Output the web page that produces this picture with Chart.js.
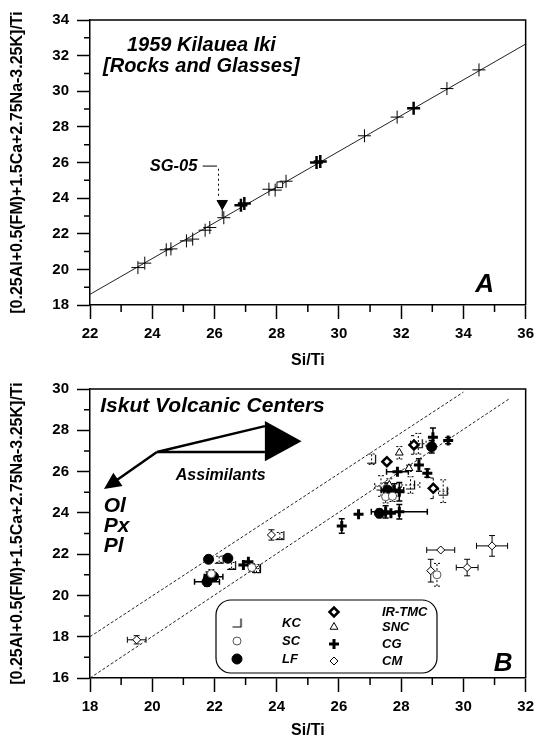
<!DOCTYPE html>
<html>
<head>
<meta charset="utf-8">
<script src="https://cdn.jsdelivr.net/npm/chart.js@4.4.1/dist/chart.umd.min.js"></script>
<style>
  html, body { margin: 0; padding: 0; background: #fff; }
  #wrap { position: relative; width: 540px; height: 740px; }
  canvas { position: absolute; left: 0; }
  #chartA { top: 0; }
  #chartB { top: 370px; }
</style>
</head>
<body>
<div id="wrap">
  <canvas id="chartA" width="540" height="370"></canvas>
  <canvas id="chartB" width="540" height="370"></canvas>
</div>
<script>
const yTitle = "[0.25Al+0.5(FM)+1.5Ca+2.75Na-3.25K]/Ti";
const xTitle = "Si/Ti";

// ---- panel A : 1959 Kilauea Iki ----
const aLineX = [22, 36];
const aLineY = [18.6, 32.65];
const aPlusX = [23.54, 23.76, 24.45, 24.6, 25.1, 25.3, 25.7, 25.85, 26.3, 27.75, 27.95, 28.3, 30.82, 31.87, 33.47, 34.5];
const aPlusY = [20.1, 20.35, 21.1, 21.15, 21.6, 21.7, 22.2, 22.35, 22.9, 24.5, 24.45, 24.95, 27.5, 28.55, 30.15, 31.2];
const aBoldX = [26.85, 26.96, 29.28, 29.4, 32.4];
const aBoldY = [23.6, 23.7, 26.0, 26.05, 29.05];
const aSquareX = [28.1];
const aSquareY = [24.75];
const sgX = [26.25];
const sgY = [23.7];
const sgErrLo = [0.75];

// ---- panel B : Iskut Volcanic Centers ----
const bUpperX = [18, 30];
const bUpperY = [18, 29.85];
const bLowerX = [18, 31.5];
const bLowerY = [16, 29.55];

const kcX = [27.05, 28.55, 29.35, 22.15, 22.55, 24.1, 23.35, 27.35, 28.3];
const kcY = [26.6, 27.35, 25.05, 21.75, 21.45, 22.9, 21.3, 25.3, 25.35];
const kcErrX = [0, 0.25, 0.15, 0, 0, 0, 0.1, 0.2, 0.3];
const kcErrY = [0.25, 0.5, 0.55, 0.15, 0.15, 0.15, 0.2, 0.5, 0.4];

const scX = [27.5, 27.72, 21.9, 23.2, 29.15];
const scY = [24.78, 24.8, 21.05, 21.35, 21.0];
const scErrY = [0.3, 0.25, 0.2, 0.2, 0.55];

const lfX = [21.81, 22.43, 21.76, 21.81, 21.97, 27.3, 27.56, 28.98];
const lfY = [21.75, 21.8, 20.66, 20.83, 20.91, 23.98, 25.1, 27.2];
const lfErrX = [0, 0, 0.4, 0, 0.3, 0, 0.2, 0];
const lfErrY = [0.15, 0, 0.2, 0.3, 0.15, 0.2, 0.35, 0.3];

const irX = [28.41, 27.54, 29.03];
const irY = [27.29, 26.48, 25.19];
const irErrY = [0.45, 0.15, 0.5];

const sncX = [27.94, 28.25, 27.62];
const sncY = [26.91, 26.16, 25.35];
const sncErrY = [0.3, 0.15, 0.3];

const cgX = [29.02, 29.51, 27.88, 28.57, 28.84, 27.78, 27.94, 27.5, 27.67, 27.94, 26.63, 26.09, 22.93, 23.09];
const cgY = [27.66, 27.5, 25.99, 26.32, 25.92, 25.11, 25.02, 24.05, 23.98, 24.05, 23.93, 23.36, 21.47, 21.63];
const cgErrX = [0, 0, 0.35, 0, 0, 0.3, 0, 0, 0, 0.9, 0, 0, 0, 0];
const cgErrY = [0.45, 0.15, 0, 0.3, 0.2, 0.3, 0.45, 0.3, 0, 0.35, 0, 0.35, 0, 0];

const cmX = [19.5, 23.83, 29.27, 28.95, 30.12, 30.92];
const cmY = [17.85, 22.93, 22.2, 21.2, 21.35, 22.4];
const cmErrX = [0.3, 0, 0.45, 0, 0.35, 0.5];
const cmErrY = [0.2, 0.25, 0, 0.55, 0.4, 0.5];

const legendLeft = ["KC", "SC", "LF"];
const legendRight = ["IR-TMC", "SNC", "CG", "CM"];

const FONT = "'Liberation Sans', Arial, sans-serif";
Chart.defaults.font.family = FONT;
Chart.defaults.color = "#000";

const pts = (xs, ys) => xs.map((x, i) => ({ x: x, y: ys[i] }));

// KC symbol: bottom-right corner
const kcSym = document.createElement("canvas");
kcSym.width = 11; kcSym.height = 11;
(function () {
  const c = kcSym.getContext("2d");
  c.strokeStyle = "#000"; c.lineWidth = 1.2;
  c.beginPath(); c.moveTo(1, 9.5); c.lineTo(9.5, 9.5); c.lineTo(9.5, 1); c.stroke();
})();

function lineSet(xs, ys, dash) {
  return {
    data: pts(xs, ys), showLine: true, pointRadius: 0,
    borderColor: "#222", borderWidth: 1, borderDash: dash || [], order: 10
  };
}

function markSet(xs, ys, o) {
  return Object.assign({
    data: pts(xs, ys),
    pointRadius: 4, pointBorderWidth: 1,
    pointBorderColor: "#000", pointBackgroundColor: "#fff"
  }, o);
}

// error bars from dataset arrays
const errorBars = {
  id: "errorBars",
  beforeDatasetsDraw(chart) {
    const { ctx } = chart;
    const sx = chart.scales.x, sy = chart.scales.y;
    chart.data.datasets.forEach((ds) => {
      if (!ds.errX && !ds.errY && !ds.errYLo) return;
      ctx.save();
      ctx.strokeStyle = "#000";
      ctx.lineWidth = ds.errWidth || 1;
      ctx.setLineDash(ds.errDash || []);
      const cap = ds.errCap === undefined ? 3 : ds.errCap;
      ds.data.forEach((p, i) => {
        const px = sx.getPixelForValue(p.x), py = sy.getPixelForValue(p.y);
        const ex = ds.errX ? ds.errX[i] : 0;
        const lo = ds.errYLo ? ds.errYLo[i] : (ds.errY ? ds.errY[i] : 0);
        const hi = ds.errYLo ? 0 : (ds.errY ? ds.errY[i] : 0);
        ctx.beginPath();
        if (ex > 0) {
          const x1 = sx.getPixelForValue(p.x - ex), x2 = sx.getPixelForValue(p.x + ex);
          ctx.moveTo(x1, py); ctx.lineTo(x2, py);
          if (cap) {
            ctx.moveTo(x1, py - cap); ctx.lineTo(x1, py + cap);
            ctx.moveTo(x2, py - cap); ctx.lineTo(x2, py + cap);
          }
        }
        if (lo > 0 || hi > 0) {
          const y1 = sy.getPixelForValue(p.y - lo), y2 = sy.getPixelForValue(p.y + hi);
          ctx.moveTo(px, y1); ctx.lineTo(px, y2);
          if (cap) {
            if (lo > 0) { ctx.moveTo(px - cap, y1); ctx.lineTo(px + cap, y1); }
            if (hi > 0) { ctx.moveTo(px - cap, y2); ctx.lineTo(px + cap, y2); }
          }
        }
        ctx.stroke();
      });
      ctx.restore();
    });
  }
};

// box on top/right + short minor ticks
const frame = {
  id: "frame",
  afterDraw(chart) {
    const { ctx, chartArea: a } = chart;
    const sx = chart.scales.x, sy = chart.scales.y;
    ctx.save();
    ctx.strokeStyle = "#000";
    ctx.lineWidth = 1.5;
    ctx.beginPath();
    ctx.moveTo(a.left, a.top); ctx.lineTo(a.right, a.top); ctx.lineTo(a.right, a.bottom);
    ctx.stroke();
    ctx.beginPath();
    for (let v = sx.min + 1; v < sx.max; v += 2) {
      const x = sx.getPixelForValue(v);
      ctx.moveTo(x, a.bottom); ctx.lineTo(x, a.bottom + 7);
    }
    for (let v = sy.min + 1; v < sy.max; v += 2) {
      const y = sy.getPixelForValue(v);
      ctx.moveTo(a.left, y); ctx.lineTo(a.left - 6, y);
    }
    ctx.stroke();
    ctx.restore();
  }
};

function text(chart, str, x, y, size, align) {
  const c = chart.ctx;
  c.font = "italic bold " + size + "px " + FONT;
  c.fillStyle = "#000";
  c.textAlign = align || "center";
  c.textBaseline = "middle";
  c.fillText(str, chart.scales.x.getPixelForValue(x), chart.scales.y.getPixelForValue(y));
}

function P(chart, x, y) {
  return [chart.scales.x.getPixelForValue(x), chart.scales.y.getPixelForValue(y)];
}

const annotA = {
  id: "annotA",
  afterDraw(chart) {
    const c = chart.ctx;
    c.save();
    text(chart, "1959 Kilauea Iki", 25.58, 32.55, 20);
    text(chart, "[Rocks and Glasses]", 25.58, 31.4, 20);
    text(chart, "A", 34.68, 19.15, 26);
    text(chart, "SG-05", 25.45, 25.8, 16.5, "right");
    c.strokeStyle = "#000"; c.lineWidth = 1;
    let p1 = P(chart, 25.62, 25.8), p2 = P(chart, 26.08, 25.8);
    c.beginPath(); c.moveTo(p1[0], p1[1]); c.lineTo(p2[0], p2[1]); c.stroke();
    p1 = P(chart, 26.13, 25.65); p2 = P(chart, 26.13, 24.1);
    c.setLineDash([2, 3]);
    c.beginPath(); c.moveTo(p1[0], p1[1]); c.lineTo(p2[0], p2[1]); c.stroke();
    c.restore();
  }
};

function arrowHead(c, from, tip, len, half) {
  const dx = tip[0] - from[0], dy = tip[1] - from[1];
  const d = Math.hypot(dx, dy), ux = dx / d, uy = dy / d;
  const bx = tip[0] - ux * len, by = tip[1] - uy * len;
  c.beginPath();
  c.moveTo(tip[0], tip[1]);
  c.lineTo(bx - uy * half, by + ux * half);
  c.lineTo(bx + uy * half, by - ux * half);
  c.closePath(); c.fill();
}

const annotB = {
  id: "annotB",
  afterDraw(chart) {
    const c = chart.ctx;
    c.save();
    text(chart, "Iskut Volcanic Centers", 18.33, 29.15, 21, "left");
    text(chart, "Assimilants", 22.2, 25.8, 16);
    text(chart, "Ol", 18.44, 24.32, 21, "left");
    text(chart, "Px", 18.44, 23.35, 21, "left");
    text(chart, "Pl", 18.44, 22.38, 21, "left");
    text(chart, "B", 31.28, 16.7, 26);

    c.strokeStyle = "#000"; c.fillStyle = "#000"; c.lineWidth = 2.5;
    const v = P(chart, 20.15, 26.95);
    const t1 = P(chart, 23.62, 28.2), t2 = P(chart, 23.62, 26.95);
    const tip = P(chart, 18.45, 25.15);
    c.beginPath();
    c.moveTo(v[0], v[1]); c.lineTo(t1[0], t1[1]);
    c.moveTo(v[0], v[1]); c.lineTo(t2[0], t2[1]);
    c.stroke();
    const a = P(chart, 23.62, 28.45), b = P(chart, 23.62, 26.5), e = P(chart, 24.8, 27.47);
    c.beginPath(); c.moveTo(a[0], a[1]); c.lineTo(b[0], b[1]); c.lineTo(e[0], e[1]); c.closePath(); c.fill();
    const mid = [tip[0] + (v[0] - tip[0]) * 0.15, tip[1] + (v[1] - tip[1]) * 0.15];
    c.beginPath(); c.moveTo(v[0], v[1]); c.lineTo(mid[0], mid[1]); c.stroke();
    arrowHead(c, v, tip, 17, 8);

    // legend box
    const area = chart.chartArea;
    const L = area.left + 126, T = area.top + 211, W = 221, H = 73;
    c.lineWidth = 1.2;
    c.beginPath();
    c.roundRect(L, T, W, H, 15);
    c.fillStyle = "#fff"; c.fill(); c.stroke();
    c.font = "italic bold 13px " + FONT;
    c.textAlign = "left"; c.textBaseline = "middle";
    const ds = chart.data.datasets;
    const find = (lbl) => ds.find((d) => d.label === lbl);
    const drawSym = (lbl, x, y) => {
      const d = find(lbl);
      c.save();
      c.lineWidth = d.pointBorderWidth;
      c.strokeStyle = d.pointBorderColor;
      c.fillStyle = d.pointBackgroundColor;
      Chart.helpers.drawPoint(c, {
        pointStyle: d.pointStyle, radius: d.pointRadius,
        rotation: d.pointRotation || 0, borderWidth: d.pointBorderWidth
      }, x, y);
      c.restore();
    };
    const rowsL = [23, 41, 59], rowsR = [12, 27, 44, 61];
    legendLeft.forEach((lbl, i) => {
      drawSym(lbl, L + 21, T + rowsL[i]);
      c.fillStyle = "#000"; c.fillText(lbl, L + 66, T + rowsL[i]);
    });
    legendRight.forEach((lbl, i) => {
      drawSym(lbl, L + 118, T + rowsR[i]);
      c.fillStyle = "#000"; c.fillText(lbl, L + 166, T + rowsR[i]);
    });
    c.restore();
  }
};

function axes(xmin, xmax, ymin, ymax, xH) {
  const tickCol = (ctx) => (ctx.tick && ctx.tick.value % 2 === 0 ? "#000" : "rgba(0,0,0,0)");
  const lbl = (v) => (v % 2 === 0 ? v : "");
  return {
    x: {
      type: "linear", min: xmin, max: xmax,
      afterFit: (s) => { s.height = xH; },
      ticks: { stepSize: 1, autoSkip: false, maxRotation: 0, padding: 6, callback: lbl,
        font: { size: 15, weight: "bold" }, color: "#000" },
      grid: { drawOnChartArea: false, tickLength: 14, tickWidth: 1.5, tickColor: tickCol },
      border: { display: true, color: "#000", width: 1.5 },
      title: { display: true, text: xTitle, font: { size: 16, weight: "bold" }, color: "#000",
        padding: { top: 0, bottom: 0 } }
    },
    y: {
      type: "linear", min: ymin, max: ymax,
      afterFit: (s) => { s.width = 90; },
      ticks: { stepSize: 1, autoSkip: false, padding: 8, callback: lbl,
        font: { size: 15, weight: "bold" }, color: "#000" },
      grid: { drawOnChartArea: false, tickLength: 13, tickWidth: 1.5, tickColor: tickCol },
      border: { display: true, color: "#000", width: 1.5 },
      title: { display: true, text: yTitle, font: { size: 16, weight: "bold" }, color: "#000",
        padding: { top: 8, bottom: 0 } }
    }
  };
}

new Chart(document.getElementById("chartA"), {
  type: "scatter",
  data: {
    datasets: [
      lineSet(aLineX, aLineY),
      markSet(aPlusX, aPlusY, { pointStyle: "cross", pointRadius: 6.5, pointBorderWidth: 1 }),
      markSet(aBoldX, aBoldY, { pointStyle: "cross", pointRadius: 6.5, pointBorderWidth: 2.5 }),
      markSet(aSquareX, aSquareY, { pointStyle: "rect", pointRadius: 4 }),
      markSet(sgX, sgY, { pointStyle: "triangle", pointRotation: 180, pointRadius: 6,
        pointBackgroundColor: "#000", errYLo: sgErrLo, errCap: 0 })
    ]
  },
  options: {
    responsive: false, animation: false, devicePixelRatio: 1,
    layout: { padding: { top: 20, right: 11, left: 0, bottom: 0 } },
    plugins: { legend: { display: false }, tooltip: { enabled: false } },
    scales: axes(22, 36, 18, 34, 65)
  },
  plugins: [errorBars, frame, annotA]
});

new Chart(document.getElementById("chartB"), {
  type: "scatter",
  data: {
    datasets: [
      lineSet(bUpperX, bUpperY, [3, 2]),
      lineSet(bLowerX, bLowerY, [3, 2]),
      markSet(kcX, kcY, { label: "KC", pointStyle: kcSym, pointRadius: 4,
        errX: kcErrX, errY: kcErrY, errDash: [2, 2] }),
      markSet(scX, scY, { label: "SC", pointStyle: "circle", pointRadius: 4, pointBorderColor: "#555",
        errY: scErrY, errDash: [2, 2] }),
      markSet(lfX, lfY, { label: "LF", pointStyle: "circle", pointRadius: 5, pointBackgroundColor: "#000",
        errX: lfErrX, errY: lfErrY, errWidth: 1.5 }),
      markSet(irX, irY, { label: "IR-TMC", pointStyle: "rectRot", pointRadius: 4.5, pointBorderWidth: 2.5,
        errY: irErrY, errDash: [3, 3] }),
      markSet(sncX, sncY, { label: "SNC", pointStyle: "triangle", pointRadius: 4.5,
        errY: sncErrY, errDash: [2, 2] }),
      markSet(cgX, cgY, { label: "CG", pointStyle: "cross", pointRadius: 5, pointBorderWidth: 3,
        errX: cgErrX, errY: cgErrY, errWidth: 1.5 }),
      markSet(cmX, cmY, { label: "CM", pointStyle: "rectRot", pointRadius: 4, pointBorderWidth: 1,
        errX: cmErrX, errY: cmErrY })
    ]
  },
  options: {
    responsive: false, animation: false, devicePixelRatio: 1,
    layout: { padding: { top: 19, right: 11, left: 0, bottom: 0 } },
    plugins: { legend: { display: false }, tooltip: { enabled: false } },
    scales: axes(18, 32, 16, 30, 62)
  },
  plugins: [errorBars, frame, annotB]
});
</script>
</body>
</html>
